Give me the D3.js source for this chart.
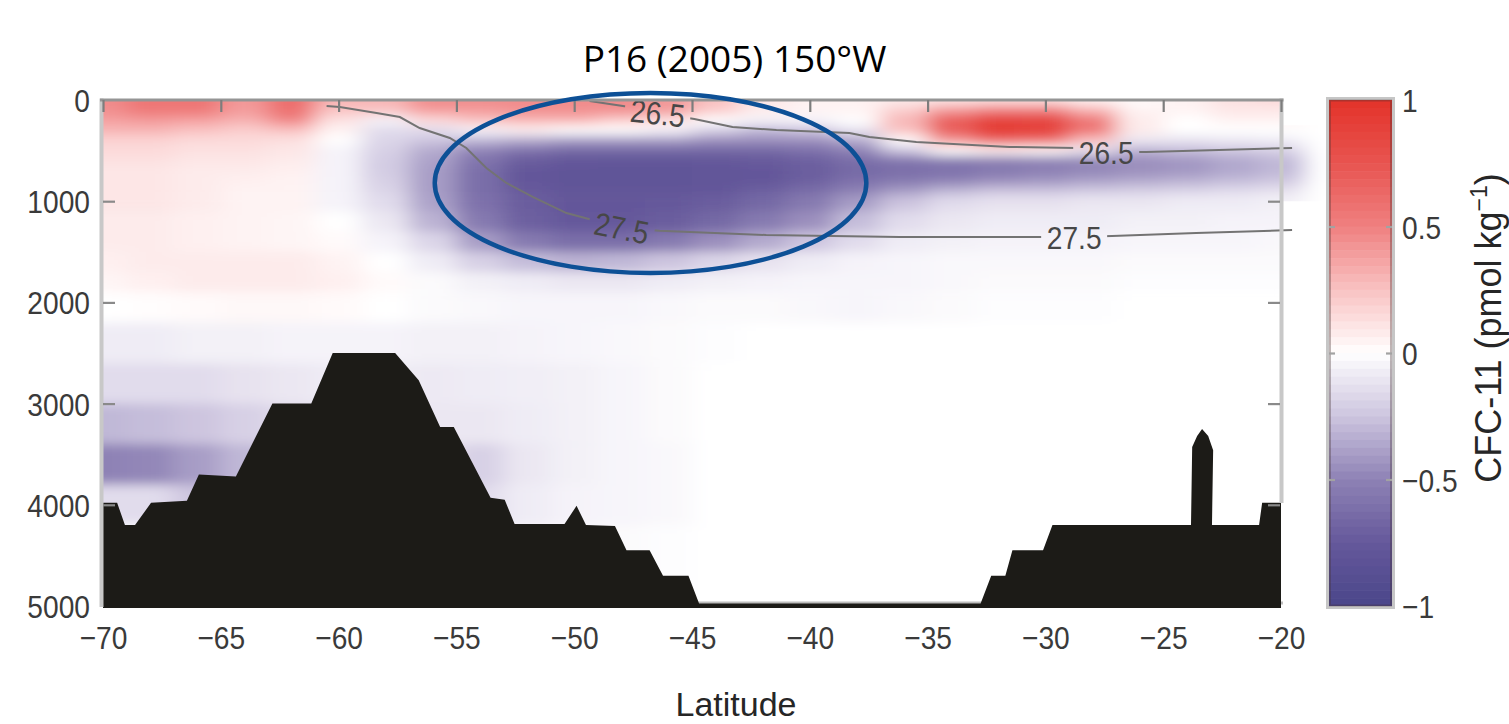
<!DOCTYPE html>
<html>
<head>
<meta charset="utf-8">
<script src="https://cdn.jsdelivr.net/npm/d3@7"></script>
<style>
  html, body { margin: 0; padding: 0; background: #ffffff; }
  svg { display: block; }
</style>
</head>
<body>
<svg id="chart" width="1509" height="724"></svg>
<script>
// ---------------- DATA ----------------
const titleText = "P16 (2005) 150°W";
const xAxisTitle = "Latitude";

const xTicks = [-70, -65, -60, -55, -50, -45, -40, -35, -30, -25, -20];
const xTickLabels = ["−70", "−65", "−60", "−55", "−50", "−45", "−40", "−35", "−30", "−25", "−20"];
const yTicks = [0, 1000, 2000, 3000, 4000, 5000];
const yTickLabels = ["0", "1000", "2000", "3000", "4000", "5000"];
const cbTicks = [1, 0.5, 0, -0.5, -1];
const cbTickLabels = ["1", "0.5", "0", "−0.5", "−1"];

// grid of CFC-11 change (pmol/kg): rows = depths, columns = latitudes
const latitudes = [-70, -68, -66, -64, -62, -60, -58, -56, -54, -52, -50, -48, -46, -44, -42, -40, -38, -36, -34, -32, -30, -28, -26, -24, -22, -20];
const depths = [0, 100, 200, 300, 400, 500, 600, 700, 800, 900, 1000, 1200, 1400, 1600, 1800, 2000, 2400, 2800, 3200, 3600, 4000, 4400];
const cfcChange = [
/*   0 */ [0.45,0.55,0.55,0.40,0.60,0.30,0.30,0.45,0.45,0.45,0.45,0.45,0.40,0.25,0.10,0.05,0.05,0.08,0.10,0.12,0.12,0.05,0.02,0.05,0.12,0.15],
/* 100 */ [0.45,0.55,0.55,0.40,0.60,0.25,0.25,0.40,0.40,0.45,0.45,0.45,0.40,0.22,0.08,0.05,0.05,0.20,0.40,0.50,0.50,0.30,0.05,0.05,0.10,0.10],
/* 200 */ [0.38,0.40,0.38,0.32,0.48,0.12,-0.05,0.15,0.25,0.30,0.30,0.20,0.12,0.00,-0.05,-0.05,0.00,0.30,0.70,0.90,0.88,0.55,0.08,0.00,0.05,0.05],
/* 300 */ [0.30,0.30,0.25,0.20,0.25,0.05,-0.15,-0.15,-0.05,0.05,0.00,0.00,-0.05,-0.20,-0.30,-0.25,-0.12,0.25,0.70,0.95,0.90,0.55,0.08,0.00,0.00,0.00],
/* 400 */ [0.18,0.18,0.15,0.15,0.12,0.00,-0.18,-0.25,-0.30,-0.35,-0.40,-0.40,-0.40,-0.45,-0.45,-0.45,-0.35,0.00,0.40,0.62,0.58,0.25,-0.10,-0.12,-0.10,-0.08],
/* 500 */ [0.15,0.15,0.12,0.12,0.10,-0.05,-0.20,-0.35,-0.50,-0.60,-0.65,-0.65,-0.65,-0.65,-0.65,-0.60,-0.50,-0.25,0.00,0.05,0.02,-0.12,-0.32,-0.28,-0.24,-0.20],
/* 600 */ [0.12,0.12,0.10,0.10,0.08,-0.05,-0.22,-0.38,-0.58,-0.72,-0.76,-0.78,-0.78,-0.76,-0.74,-0.70,-0.62,-0.58,-0.55,-0.52,-0.50,-0.48,-0.45,-0.42,-0.36,-0.30],
/* 700 */ [0.10,0.10,0.08,0.08,0.06,-0.05,-0.22,-0.40,-0.62,-0.76,-0.80,-0.80,-0.80,-0.78,-0.76,-0.72,-0.65,-0.62,-0.60,-0.56,-0.52,-0.48,-0.45,-0.42,-0.36,-0.30],
/* 800 */ [0.10,0.10,0.08,0.06,0.05,-0.05,-0.20,-0.40,-0.62,-0.76,-0.80,-0.80,-0.80,-0.78,-0.76,-0.70,-0.60,-0.55,-0.50,-0.45,-0.42,-0.38,-0.35,-0.32,-0.28,-0.24],
/* 900 */ [0.10,0.10,0.08,0.05,0.05,-0.05,-0.18,-0.40,-0.62,-0.74,-0.78,-0.78,-0.78,-0.76,-0.70,-0.62,-0.50,-0.40,-0.30,-0.25,-0.25,-0.22,-0.20,-0.18,-0.15,-0.12],
/*1000 */ [0.10,0.10,0.08,0.05,0.05,-0.05,-0.15,-0.38,-0.60,-0.72,-0.76,-0.76,-0.75,-0.72,-0.65,-0.55,-0.40,-0.25,-0.15,-0.12,-0.12,-0.10,-0.10,-0.08,-0.08,-0.06],
/*1200 */ [0.08,0.08,0.06,0.05,0.04,0.00,-0.10,-0.32,-0.55,-0.70,-0.75,-0.75,-0.72,-0.65,-0.55,-0.45,-0.28,-0.15,-0.10,-0.08,-0.08,-0.08,-0.06,-0.06,-0.05,-0.05],
/*1400 */ [0.08,0.08,0.06,0.05,0.04,0.02,-0.05,-0.18,-0.40,-0.55,-0.62,-0.62,-0.55,-0.45,-0.35,-0.25,-0.15,-0.08,-0.06,-0.05,-0.05,-0.05,-0.04,-0.04,-0.04,-0.03],
/*1600 */ [0.06,0.08,0.08,0.08,0.08,0.05,0.00,-0.08,-0.20,-0.28,-0.32,-0.30,-0.25,-0.18,-0.12,-0.08,-0.05,-0.04,-0.03,-0.03,-0.03,-0.03,-0.02,-0.02,-0.02,-0.02],
/*1800 */ [0.04,0.06,0.08,0.08,0.08,0.06,0.02,-0.02,-0.06,-0.08,-0.10,-0.10,-0.08,-0.06,-0.05,-0.04,-0.04,-0.04,-0.03,-0.02,-0.02,-0.02,-0.01,-0.01,-0.01,-0.01],
/*2000 */ [0.00,0.01,0.02,0.03,0.03,0.02,0.00,-0.02,-0.03,-0.04,-0.04,-0.04,-0.03,-0.02,-0.02,-0.03,-0.04,-0.03,-0.02,-0.01,-0.01,-0.01,0.00,0.00,0.00,0.00],
/*2400 */ [-0.08,-0.08,-0.06,-0.06,-0.05,-0.05,-0.05,-0.06,-0.06,-0.05,-0.04,-0.03,-0.02,-0.01,0.00,0.00,0.00,0.00,0.00,0.00,0.00,0.00,0.00,0.00,0.00,0.00],
/*2800 */ [-0.15,-0.15,-0.15,-0.12,-0.10,-0.08,-0.08,-0.09,-0.08,-0.07,-0.06,-0.04,-0.02,0.00,0.00,0.00,0.00,0.00,0.00,0.00,0.00,0.00,0.00,0.00,0.00,0.00],
/*3200 */ [-0.30,-0.28,-0.25,-0.20,-0.15,-0.10,-0.08,-0.10,-0.10,-0.08,-0.06,-0.04,-0.02,0.00,0.00,0.00,0.00,0.00,0.00,0.00,0.00,0.00,0.00,0.00,0.00,0.00],
/*3600 */ [-0.50,-0.48,-0.40,-0.30,-0.20,-0.15,-0.10,-0.12,-0.20,-0.10,-0.06,-0.04,-0.03,0.00,0.00,0.00,0.00,0.00,0.00,0.00,0.00,0.00,0.00,0.00,0.00,0.00],
/*4000 */ [-0.15,-0.15,-0.25,-0.25,-0.18,-0.12,-0.10,-0.12,-0.15,-0.08,-0.05,-0.04,-0.03,0.00,0.00,0.00,0.00,0.00,0.00,0.00,0.00,0.00,0.00,0.00,0.00,0.00],
/*4400 */ [0.00,0.00,-0.10,-0.10,-0.08,-0.06,-0.05,-0.05,-0.05,-0.04,-0.03,-0.02,-0.01,0.00,0.00,0.00,0.00,0.00,0.00,0.00,0.00,0.00,0.00,0.00,0.00,0.00]
];

// bottom topography (latitude, depth in m)
const bathyLat   = [-70, -69.4, -69.07, -68.64, -67.96, -66.44, -65.93, -64.36, -62.81, -61.16, -60.25, -57.6, -56.6, -55.69, -55.11, -53.55, -52.95, -52.53, -50.41, -49.9, -49.5, -48.27, -47.78, -46.8, -46.23, -45.15, -44.7, -32.75, -32.3, -31.7, -31.4, -30.1, -29.7, -23.82, -23.77, -23.56, -23.35, -23.09, -22.88, -22.93, -20.93, -20.8, -20];
const bathyDepth = [3980, 3980, 4200, 4200, 3980, 3960, 3700, 3720, 3000, 3000, 2500, 2500, 2770, 3230, 3230, 3930, 3950, 4190, 4190, 4010, 4200, 4210, 4450, 4450, 4700, 4700, 4975, 4975, 4700, 4700, 4450, 4450, 4200, 4200, 3430, 3320, 3250, 3320, 3460, 4200, 4200, 3980, 3980];

// isopycnals (sigma-theta)
const iso275Lat   = [-60.51, -59.95, -58.39, -57.4, -56.56, -55.28, -54.58, -53.73, -52.88, -51.76, -50.33, -49.22, -47.99, -46.38, -41.85, -36.2, -30.13, -28.78, -27.17, -23.6, -19.53];
const iso275Depth = [59, 69, 128, 168, 277, 375, 474, 672, 820, 958, 1117, 1186, 1265, 1291, 1334, 1354, 1354, 1354, 1344, 1314, 1285];
const iso265Lat   = [-49.35, -47.65, -46.46, -44.9, -43.28, -41.42, -38.32, -37.47, -35.48, -31.53, -28.69, -27.42, -25.72, -22.63, -19.53];
const iso265Depth = [10, 69, 128, 188, 267, 296, 326, 366, 415, 464, 474, 514, 514, 494, 474];
const contourLabels = [
  { text: "26.5", lat: -46.46, depth: 128, angle: 6 },
  { text: "27.5", lat: -47.99, depth: 1265, angle: 11 },
  { text: "26.5", lat: -27.42, depth: 514, angle: 0 },
  { text: "27.5", lat: -28.78, depth: 1354, angle: 0 }
];

// highlighted region (ellipse)
const ellipseLat = -46.76, ellipseDepth = 820, ellipseLatRadius = 9.16, ellipseDepthRadius = 889;

// colour map
const cmapValues = [-1, -0.75, -0.5, -0.25, -0.1, 0, 0.1, 0.25, 0.5, 0.75, 1];
const cmapColors = ["#4a468a", "#65589b", "#8e82b5", "#cdc5df", "#ebe7f2", "#ffffff", "#fde6e6", "#f9c2c2", "#ef8080", "#e85450", "#e3332a"];

// ---------------- DRAWING ----------------
const svg = d3.select("#chart");
const W = 1509, H = 724;
const x = d3.scaleLinear().domain([-70, -20]).range([103, 1281]);
const y = d3.scaleLinear().domain([0, 5000]).range([100, 606]);
const color = d3.scaleLinear().domain(cmapValues).range(cmapColors).interpolate(d3.interpolateRgb).clamp(true);
const FONT = "'Liberation Sans', Arial, sans-serif";

const defs = svg.append("defs");
const clip = defs.append("clipPath").attr("id", "plotClip");
clip.append("rect").attr("x", x(-70)).attr("y", y(0)).attr("width", x(-20) - x(-70)).attr("height", y(5000) - y(0));
clip.append("rect").attr("x", x(-20)).attr("y", y(250)).attr("width", 48).attr("height", y(1000) - y(250));

defs.append("filter").attr("id", "blur")
  .attr("filterUnits", "userSpaceOnUse").attr("x", 0).attr("y", 0).attr("width", W).attr("height", H)
  .append("feGaussianBlur").attr("stdDeviation", "12 5.5");

// heat map cells
const cells = [];
depths.forEach((d, j) => {
  const top = j === 0 ? y(0) - 20 : y((depths[j - 1] + d) / 2);
  const bot = j === depths.length - 1 ? y(5000) + 20 : y((d + depths[j + 1]) / 2);
  latitudes.forEach((la, i) => {
    const left = i === 0 ? x(-70) - 40 : x((latitudes[i - 1] + la) / 2);
    const right = i === latitudes.length - 1 ? x(-20) + 22 : x((la + latitudes[i + 1]) / 2);
    cells.push({ x0: left, x1: right, y0: top, y1: bot, v: cfcChange[j][i] });
  });
});
svg.append("g").attr("clip-path", "url(#plotClip)")
  .append("g").attr("filter", "url(#blur)")
  .selectAll("rect").data(cells).join("rect")
  .attr("x", c => c.x0).attr("y", c => c.y0)
  .attr("width", c => c.x1 - c.x0 + 0.6).attr("height", c => c.y1 - c.y0 + 0.6)
  .attr("fill", c => color(c.v));

// bottom frame line (under topography)
svg.append("line").attr("x1", 101).attr("x2", 1283).attr("y1", 603).attr("y2", 603).attr("stroke", "#bdbdbd").attr("stroke-width", 3);

// isopycnal contours with gaps at labels
const mask = defs.append("mask").attr("id", "labelMask").attr("maskUnits", "userSpaceOnUse")
  .attr("x", 0).attr("y", 0).attr("width", W).attr("height", H);
mask.append("rect").attr("x", 0).attr("y", 0).attr("width", W).attr("height", H).attr("fill", "white");
mask.selectAll("rect.gap").data(contourLabels).join("rect").attr("class", "gap")
  .attr("x", -33).attr("y", -15).attr("width", 66).attr("height", 30).attr("fill", "black")
  .attr("transform", d => `translate(${x(d.lat)},${y(d.depth)}) rotate(${d.angle})`);

const line = d3.line().x(p => x(p[0])).y(p => y(p[1])).curve(d3.curveLinear);
const contours = svg.append("g").attr("mask", "url(#labelMask)");
[[iso275Lat, iso275Depth], [iso265Lat, iso265Depth]].forEach(([la, de]) => {
  contours.append("path").attr("d", line(la.map((v, i) => [v, de[i]])))
    .attr("fill", "none").attr("stroke", "#737373").attr("stroke-width", 2);
});
svg.append("g").selectAll("text").data(contourLabels).join("text")
  .attr("transform", d => `translate(${x(d.lat)},${y(d.depth)}) rotate(${d.angle}) scale(0.88,1)`)
  .attr("text-anchor", "middle").attr("dy", "0.36em")
  .attr("font-family", FONT).attr("font-size", 32).attr("fill", "#474747")
  .text(d => d.text);

// topography
const bathyPts = bathyLat.map((v, i) => [v, bathyDepth[i]]);
bathyPts.push([-20, 5020], [-70, 5020]);
svg.append("path").attr("d", line(bathyPts) + "Z").attr("fill", "#1c1b17");

// frame lines on top
svg.append("line").attr("x1", 101.5).attr("x2", 101.5).attr("y1", 98.5).attr("y2", 607).attr("stroke", "#c8c8c8").attr("stroke-width", 4);
svg.append("line").attr("x1", 1281.5).attr("x2", 1281.5).attr("y1", 98.5).attr("y2", 503).attr("stroke", "#c8c8c8").attr("stroke-width", 4);
svg.append("line").attr("x1", 100).attr("x2", 1283.5).attr("y1", 100).attr("y2", 100).attr("stroke", "#959595").attr("stroke-width", 3);

// inner ticks
function styleTicks(g, col) {
  g.select(".domain").remove();
  g.selectAll(".tick line").attr("stroke", col).attr("stroke-width", 2.2);
  g.selectAll(".tick text").remove();
}
svg.append("g").attr("transform", "translate(0,100)")
  .call(d3.axisBottom(x).tickValues(xTicks).tickSize(12).tickFormat(""))
  .call(g => styleTicks(g, "#7d7d7d"));
svg.append("g").attr("transform", "translate(103,0)")
  .call(d3.axisRight(y).tickValues(yTicks.slice(1, 5)).tickSize(12).tickFormat(""))
  .call(g => styleTicks(g, "#8a8a8a"));
svg.append("g").attr("transform", "translate(1280,0)")
  .call(d3.axisLeft(y).tickValues(yTicks.slice(1, 5)).tickSize(12).tickFormat(""))
  .call(g => styleTicks(g, "#8a8a8a"));

// tick labels
function styleLabels(g, anchor) {
  g.select(".domain").remove();
  g.selectAll(".tick line").remove();
  g.attr("font-family", FONT).attr("font-size", 32);
  g.selectAll(".tick text").attr("fill", "#3a3a3a").attr("x", 0).attr("y", 0).attr("dy", "0.36em")
    .attr("text-anchor", anchor).attr("transform", "scale(0.88,1)");
}
svg.append("g").attr("transform", "translate(0,637)")
  .call(d3.axisBottom(x).tickValues(xTicks).tickSize(0).tickFormat((d, i) => xTickLabels[i]))
  .call(g => styleLabels(g, "middle"));
svg.append("g").attr("transform", "translate(90,0)")
  .call(d3.axisLeft(y).tickValues(yTicks).tickSize(0).tickFormat((d, i) => yTickLabels[i]))
  .call(g => styleLabels(g, "end"));

// colour bar
const cb = d3.scaleLinear().domain([1, -1]).range([100, 606]);
const nBands = 64;
const bands = d3.range(nBands).map(k => 1 - (k + 0.5) * 2 / nBands);
const cbX = 1329, cbW = 63;
const cbG = svg.append("g");
cbG.selectAll("rect").data(bands).join("rect")
  .attr("x", cbX).attr("width", cbW)
  .attr("y", v => cb(v + 1 / nBands)).attr("height", (cb(-1) - cb(1)) / nBands + 0.6)
  .attr("fill", v => color(v));
cbG.append("rect").attr("x", cbX - 1.5).attr("y", 98.5).attr("width", cbW + 3).attr("height", 509)
  .attr("fill", "none").attr("stroke", "#c6c6c6").attr("stroke-width", 3);
cbG.append("rect").attr("x", cbX + 1).attr("y", 100.5).attr("width", cbW - 2).attr("height", 505)
  .attr("fill", "none").attr("stroke", "rgba(70,50,50,0.35)").attr("stroke-width", 2);
svg.append("g").attr("transform", `translate(${cbX},0)`)
  .call(d3.axisRight(cb).tickValues([0.5, 0, -0.5]).tickSize(6).tickFormat(""))
  .call(g => styleTicks(g, "#a2a2a2"));
svg.append("g").attr("transform", `translate(${cbX + cbW},0)`)
  .call(d3.axisLeft(cb).tickValues([0.5, 0, -0.5]).tickSize(6).tickFormat(""))
  .call(g => styleTicks(g, "#a2a2a2"));
svg.append("g").attr("transform", "translate(1402,0)")
  .call(d3.axisRight(cb).tickValues(cbTicks).tickSize(0).tickFormat((d, i) => cbTickLabels[i]))
  .call(g => styleLabels(g, "start"));

// colour-bar title
const cbTitle = svg.append("text")
  .attr("transform", "translate(1501,328) rotate(-90)")
  .attr("text-anchor", "middle").attr("font-family", FONT).attr("font-size", 36).attr("fill", "#262626");
cbTitle.append("tspan").text("CFC-11 (pmol kg");
cbTitle.append("tspan").attr("font-size", 23).attr("dy", -14).text("−1");
cbTitle.append("tspan").attr("dy", 14).text(")");

// highlight ellipse
svg.append("ellipse")
  .attr("cx", x(ellipseLat)).attr("cy", y(ellipseDepth))
  .attr("rx", x(ellipseLat + ellipseLatRadius) - x(ellipseLat))
  .attr("ry", y(ellipseDepth + ellipseDepthRadius) - y(ellipseDepth))
  .attr("fill", "none").attr("stroke", "#0d5096").attr("stroke-width", 4.5);

// titles
svg.append("text").attr("x", 734.5).attr("y", 72).attr("text-anchor", "middle")
  .attr("font-family", "'Open Sans', 'Noto Sans', sans-serif").attr("font-size", 37).attr("fill", "#000")
  .text(titleText);
svg.append("text").attr("x", 736).attr("y", 716).attr("text-anchor", "middle")
  .attr("font-family", FONT).attr("font-size", 34).attr("fill", "#262626")
  .text(xAxisTitle);
</script>
</body>
</html>
